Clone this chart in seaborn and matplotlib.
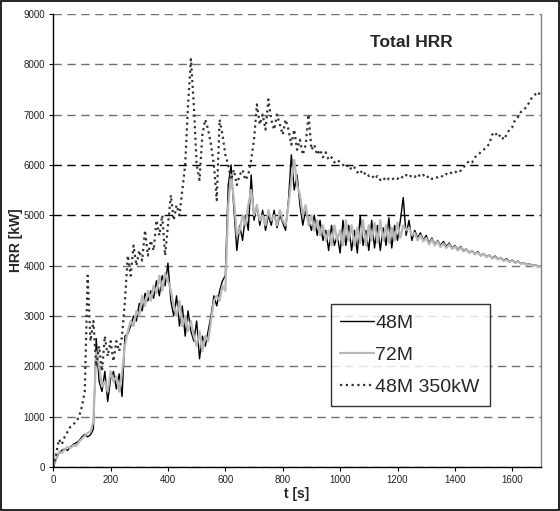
import numpy as np
import pandas as pd
import matplotlib
matplotlib.use("Agg")
import matplotlib.pyplot as plt
import seaborn as sns
from matplotlib.patches import Rectangle

# time grid [s], one sample every 10 s
t = np.arange(0, 1701, 10)

# HRR [kW]
hrr_48m = [
    0, 150, 280, 330, 360, 330, 400, 450, 480, 520,
    600, 650, 600, 640, 750, 2550, 1700, 1500, 1900, 1300,
    1750, 1900, 1550, 1850, 1400, 2600, 2650, 2800, 3000, 2900,
    3250, 3100, 3450, 3300, 3500, 3350, 3700, 3400, 3800, 3600,
    4050, 3300, 3000, 3400, 2800, 3200, 2600, 3100, 2700, 2500,
    2900, 2150, 2600, 2400, 2700, 3000, 3400, 3200, 3500, 3700,
    3800, 5600, 6000, 5100, 4300, 4800, 4500, 5000, 4700, 5800,
    4900, 5200, 4800, 5100, 4700, 5000, 4800, 5100, 4750, 5000,
    4850, 4700, 5300, 6200, 5500, 5800, 5200, 4800, 5100, 4900,
    4700, 5000, 4600, 4900, 4500, 4700, 4300, 4800, 4400, 4600,
    4250, 4900, 4400, 4800, 4300, 4700, 4250, 5000, 4400, 4700,
    4300, 4900, 4350, 4800, 4300, 4750, 4400, 4950, 4350, 4800,
    4500, 4900, 5350, 4600, 4900, 4500, 4700, 4550, 4650, 4500,
    4600, 4450, 4550, 4420, 4500, 4400, 4480, 4380, 4450, 4350,
    4400, 4320, 4380, 4300, 4330, 4260, 4300, 4230, 4280, 4200,
    4240, 4180, 4210, 4150, 4190, 4130, 4160, 4100, 4140, 4080,
    4110, 4060, 4090, 4040, 4060, 4020, 4040, 4000, 4020, 3980,
    4000,
]

hrr_72m = [
    0, 180, 300, 280, 350, 400, 380, 430, 420, 500,
    560, 620, 680, 700, 900, 2300, 2000, 1600, 1700, 1500,
    1900, 1700, 1800, 1500, 1900, 2400, 2700, 2900, 2800, 3100,
    3000, 3400, 3200, 3500, 3300, 3600, 3450, 3800, 3500, 3850,
    3700, 3500, 3200, 3000, 3300, 2800, 3000, 2700, 2900, 2600,
    2400, 2700, 2300, 2600, 2500, 2900, 3300, 3400, 3300, 3600,
    3500, 5200, 5800, 5300, 4600, 4700, 5000, 4800, 5200, 5500,
    5000, 5200, 4900, 5000, 4800, 5100, 4900, 5000, 4800, 5100,
    4900, 4800, 5200, 5700, 6100, 5600, 5400, 5000, 5200, 4800,
    5000, 4700, 4900, 4600, 4800, 4500, 4700, 4400, 4800, 4500,
    4700, 4400, 4900, 4500, 4800, 4400, 4750, 4450, 4900, 4400,
    4800, 4500, 4850, 4450, 4900, 4500, 4800, 4450, 4750, 4500,
    4850, 4550, 4800, 4700, 4750, 4600, 4650, 4500, 4600, 4480,
    4550, 4420, 4520, 4400, 4480, 4370, 4440, 4350, 4420, 4330,
    4380, 4300, 4360, 4280, 4320, 4250, 4290, 4220, 4260, 4190,
    4230, 4170, 4200, 4140, 4170, 4120, 4150, 4090, 4120, 4070,
    4100, 4050, 4080, 4030, 4050, 4010, 4030, 3990, 4010, 3970,
    3990,
]

hrr_48m_350 = [
    0, 250, 550, 450, 600, 700, 800, 850, 900, 1000,
    1200, 1500, 3800, 2500, 2900, 2000, 2400, 1900, 2600, 2200,
    2500, 2100, 2500, 2300, 2600, 3300, 4200, 3800, 4400, 4000,
    4300, 4100, 4700, 4200, 4500, 4300, 4900, 4600, 5000, 4200,
    4800, 5400, 4900, 5200, 5000, 5500, 6000, 7200, 8100, 7200,
    6000, 5700, 6600, 6900, 6700, 6400, 6000, 5300, 6900, 6600,
    6200, 6000, 5700, 5900, 5600, 5800, 5900, 5700, 5800, 6100,
    6500, 7200, 6800, 7000, 6700, 7300, 6900, 6700, 7000, 6800,
    6600, 6900, 6700, 6400, 6700, 6300, 6500, 6200, 6400, 7000,
    6300, 6400, 6200, 6300, 6150, 6250, 6100, 6150, 6050, 6100,
    6050, 6000, 5950, 6000, 5900, 5950, 5850, 5900, 5800, 5850,
    5780, 5800, 5720, 5780, 5700, 5750, 5680, 5730, 5700, 5750,
    5720, 5780, 5740, 5800, 5750, 5800, 5760, 5820, 5760, 5800,
    5740, 5780, 5720, 5760, 5750, 5790, 5760, 5820, 5800, 5860,
    5840, 5900, 5880, 5950, 6020, 6080, 6050, 6150, 6200, 6250,
    6300, 6350, 6420, 6600, 6650, 6550, 6600, 6500, 6600, 6700,
    6750, 6900, 6950, 7050, 7100, 7150, 7250, 7350, 7400, 7450,
    7350,
]

sns.set_style("white")
plt.rcParams['font.family'] = ['Liberation Sans', 'DejaVu Sans']

fig = plt.figure(figsize=(5.6, 5.11), dpi=100)
ax = fig.add_axes([0.095, 0.086, 0.871, 0.887])

sns.lineplot(x=t, y=hrr_48m, ax=ax, color="black", linewidth=1.0, label="48M")
sns.lineplot(x=t, y=hrr_72m, ax=ax, color="#b8b8b8", linewidth=1.6, label="72M")
sns.lineplot(x=t, y=hrr_48m_350, ax=ax, color="#333333", linewidth=1.6,
             linestyle=(0, (1, 1.6)), label="48M 350kW")

ax.set_xlim(0, 1700)
ax.set_ylim(0, 9000)
ax.set_xticks(range(0, 1700, 200))
ax.set_yticks(range(0, 9001, 1000))
ax.tick_params(axis="both", labelsize=7, length=3, width=0.8, direction="out",
               color="black", labelcolor="#222222", bottom=True, left=True, pad=3)

# dashed horizontal grid
ax.grid(axis="y", linestyle=(0, (6, 4)), linewidth=1.0, color="#707070")
for val, gl in zip(ax.get_yticks(), ax.get_ygridlines()):
    if val in (5000, 6000):
        gl.set_color("black")
ax.grid(axis="x", visible=False)

for side in ["left", "bottom"]:
    ax.spines[side].set_color("black")
    ax.spines[side].set_linewidth(1.0)
ax.spines["top"].set_visible(False)
ax.spines["right"].set_color("#808080")
ax.spines["right"].set_linewidth(1.0)

ax.set_xlabel("t [s]", fontsize=10, fontweight="bold", labelpad=1)
ax.set_ylabel("HRR [kW]", fontsize=10, fontweight="bold", labelpad=0)

ax.text(1250, 8430, "Total HRR", fontsize=12.5, fontweight="bold",
        ha="center", va="center")

leg = ax.legend(loc="lower left", bbox_to_anchor=(0.569, 0.135), fontsize=14,
                frameon=True, fancybox=False, shadow=False, handlelength=1.75,
                handletextpad=0.05, borderpad=0.5, labelspacing=0.75,
                borderaxespad=0)
leg.get_frame().set_edgecolor("black")
leg.get_frame().set_linewidth(1.0)

# border around the whole picture
fig.patches.append(Rectangle((0.002, 0.002), 0.996, 0.996, transform=fig.transFigure,
                             fill=False, edgecolor="black", linewidth=1.2))

fig.savefig("out.png", dpi=100)
